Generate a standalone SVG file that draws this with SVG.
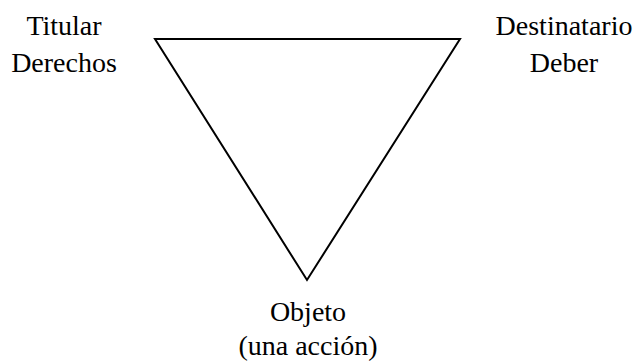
<svg xmlns="http://www.w3.org/2000/svg" width="639" height="362" viewBox="0 0 639 362">
<style>
text{font-family:'Liberation Serif','Times New Roman',Times,serif;font-size:28px;fill:#000;text-anchor:middle}
.edge{fill:none;stroke:#000;stroke-width:2;stroke-linejoin:miter}
</style>
<rect width="639" height="362" fill="#fff"/>
<g id="connectors">
<polygon class="edge" points="155,39 460,39 307,280"/>
</g>
<g id="titular">
<text x="64" y="35">Titular</text>
<text x="64" y="72">Derechos</text>
</g>
<g id="destinatario">
<text x="564" y="35">Destinatario</text>
<text x="564" y="72">Deber</text>
</g>
<g id="objeto">
<text x="308" y="321">Objeto</text>
<text x="308" y="355">(una acción)</text>
</g>
</svg>
